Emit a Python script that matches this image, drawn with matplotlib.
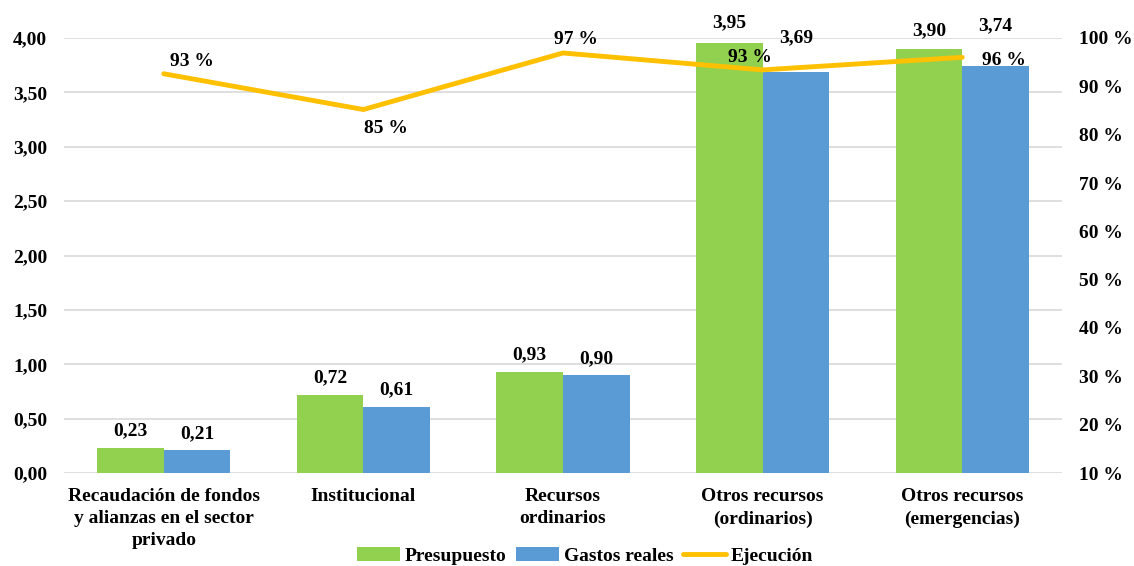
import matplotlib
matplotlib.use("Agg")
import matplotlib.pyplot as plt
import numpy as np
from matplotlib.ticker import FuncFormatter

categories = ["Recaudación de fondos\ny alianzas en el sector\nprivado", "Institucional",
              "Recursos\nordinarios", "Otros recursos\n(ordinarios)", "Otros recursos\n(emergencias)"]
presupuesto = [0.23, 0.72, 0.93, 3.95, 3.90]
gastos = [0.21, 0.61, 0.90, 3.69, 3.74]
ejecucion = [92.6, 85.2, 96.9, 93.4, 96.0]
ejec_labels = ["93 %", "85 %", "97 %", "93 %", "96 %"]

GREEN = "#92D050"
BLUE = "#5B9BD5"
GOLD = "#FFC000"
FONT = "Liberation Serif"
FS = 14
plt.rcParams['font.family'] = [FONT, 'DejaVu Serif']
plt.rcParams['font.weight'] = 'bold'

fig = plt.figure(figsize=(11.34, 5.66), dpi=100)
ax = fig.add_axes([64/1134, 1-473/566, (1062-64)/1134, (473-38)/566])
x = np.arange(len(categories))
w = 1/3
b1 = ax.bar(x - w/2, presupuesto, w, color=GREEN, label="Presupuesto", zorder=2)
b2 = ax.bar(x + w/2, gastos, w, color=BLUE, label="Gastos reales", zorder=2)
ax.set_xlim(-0.5, len(categories) - 0.5)
ax.set_ylim(0, 4.0)
ax.set_yticks(np.arange(0, 4.01, 0.5))
ax.yaxis.set_major_formatter(FuncFormatter(lambda v, p: f"{v:.2f}".replace(".", ",")))
ax.grid(axis='y', color="#D9D9D9", linewidth=1.2, zorder=0)
ax.set_axisbelow(True)
for s in ax.spines.values():
    s.set_visible(False)
ax.tick_params(axis='both', length=0, labelsize=FS)
ax.tick_params(axis='y', pad=12)
ax.set_xticks(x)
ax.set_xticklabels(categories, fontsize=FS, fontweight='bold', linespacing=1.38)
ax.tick_params(axis='x', pad=11)
for lab in ax.get_yticklabels():
    lab.set_fontweight('bold')

# label offsets (points) above bar tops
off_p = [6, 6, 6, 9, 7]
off_g = [6, 6, 6, 18, 23]
for bars, vals, offs in ((b1, presupuesto, off_p), (b2, gastos, off_g)):
    for r, v, o in zip(bars, vals, offs):
        ax.annotate(f"{v:.2f}".replace(".", ","), (r.get_x() + r.get_width()/2, v),
                    xytext=(0, o), textcoords="offset points", ha='center', va='bottom',
                    fontsize=FS, fontweight='bold')

ax2 = ax.twinx()
ax2.set_ylim(10, 100)
ax2.set_yticks(np.arange(10, 101, 10))
ax2.yaxis.set_major_formatter(FuncFormatter(lambda v, p: f"{int(v)} %"))
for s in ax2.spines.values():
    s.set_visible(False)
ax2.tick_params(axis='y', length=0, labelsize=FS, pad=12)
for lab in ax2.get_yticklabels():
    lab.set_fontweight('bold')
ln, = ax2.plot(x, ejecucion, color=GOLD, linewidth=3.5, label="Ejecución", zorder=3,
               solid_capstyle='round')
offsets = [(20, 9), (16, -14), (9, 10), (-9, 9), (30, -2)]
for xi, v, lab, off in zip(x, ejecucion, ejec_labels, offsets):
    ax2.annotate(lab, (xi, v), xytext=off, textcoords="offset points", ha='center', va='center',
                 fontsize=FS, fontweight='bold')

fig.legend(handles=[b1, b2, ln], labels=["Presupuesto", "Gastos reales", "Ejecución"],
           loc='center', bbox_to_anchor=(585/1134, 1-556/566), ncol=3, frameon=False,
           handlelength=2.2, handletextpad=0.25, columnspacing=0.5,
           prop={'weight': 'bold', 'size': FS, 'family': FONT})

fig.savefig("out.png", dpi=100)
